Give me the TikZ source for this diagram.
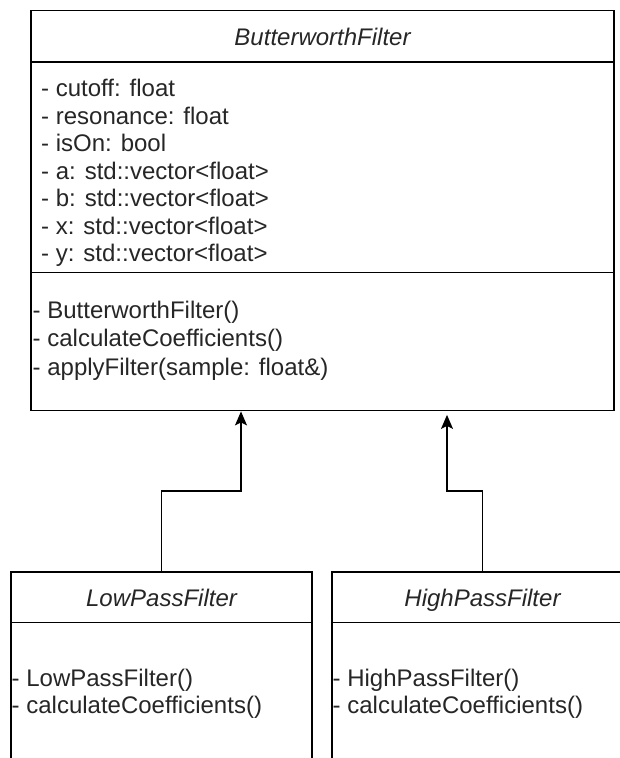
\documentclass[tikz,border=0pt]{standalone}
\usepackage{fontspec}
\setmainfont{Liberation Sans}
\usetikzlibrary{arrows.meta}
\definecolor{ink}{HTML}{262626}
\begin{document}
\begin{tikzpicture}[x=1pt,y=-1pt,
  classbox/.style={draw=black, line width=1.4pt, rectangle, inner sep=0pt},
  sep/.style={draw=black, line width=1.4pt},
  member/.style={anchor=base west, inner sep=0pt, text=ink, font=\fontsize{24}{28}\selectfont},
  classname/.style={anchor=base, inner sep=0pt, text=ink, font=\fontsize{24}{28}\selectfont\itshape},
  inherit/.style={draw=black, line width=1.4pt, -{Stealth[length=14pt,width=12pt,inset=3pt]}}]
\useasboundingbox (0,0) rectangle (620,758);
\clip (0,0) rectangle (620,758);

% base class
\node[classbox, minimum width=583pt, minimum height=400.2pt] (base) at (322.5,210.6) {};
\draw[sep] (base.west |- 0,62) -- (base.east |- 0,62);
\draw[sep] (base.west |- 0,272.7) -- (base.east |- 0,272.7);
\node[classname] (baseName) at (322.5,45) {ButterworthFilter};
\foreach \txt [count=\i from 0] in {%
  {- cutoff: float},{- resonance: float},{- isOn: bool},%
  {- a: std::vector<float>},{- b: std::vector<float>},%
  {- x: std::vector<float>},{- y: std::vector<float>}}
  \node[member] (baseAttr\i) at (41,96.7+27.5*\i) {\txt};
\foreach \txt [count=\i from 0] in {%
  {- ButterworthFilter()},{- calculateCoefficients()},{- applyFilter(sample: float\&)}}
  \node[member] (baseOp\i) at (32.5,318.3+28.6*\i) {\txt};

% derived classes (cut off at the lower edge)
\node[classbox, minimum width=301pt, minimum height=228pt] (low) at (161.5,686) {};
\node[classbox, minimum width=301pt, minimum height=228pt] (high) at (482.5,686) {};
\draw[sep] (low.west |- 0,622.7) -- (low.east |- 0,622.7);
\draw[sep] (high.west |- 0,622.7) -- (high.east |- 0,622.7);
\node[classname] (lowName) at (161.5,606.7) {LowPassFilter};
\node[classname] (highName) at (482.5,606.7) {HighPassFilter};
\node[member] (lowOp0) at (11.5,686) {- LowPassFilter()};
\node[member] (lowOp1) at (11.5,713.3) {- calculateCoefficients()};
\node[member] (highOp0) at (332.5,686) {- HighPassFilter()};
\node[member] (highOp1) at (332.5,713.3) {- calculateCoefficients()};

% generalisation connectors
\coordinate (lowKnee) at (241,491);
\coordinate (highKnee) at (447,491);
\draw[inherit] (low.north) |- (lowKnee) -- (lowKnee |- base.south);
\draw[inherit, shorten >=3.5pt] (high.north) |- (highKnee) -- (highKnee |- base.south);
\end{tikzpicture}
\end{document}
